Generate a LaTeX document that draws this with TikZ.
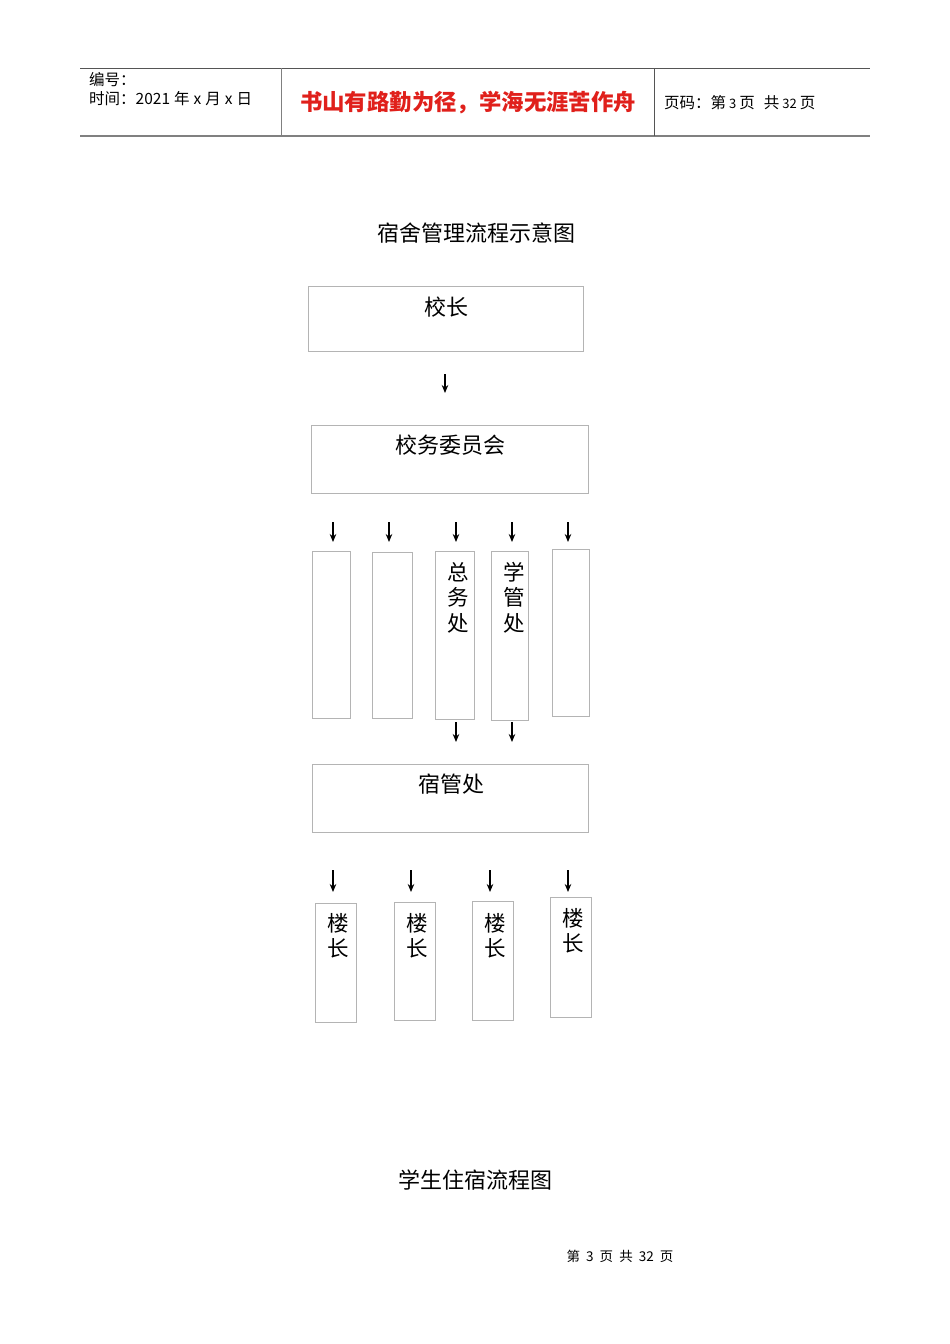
\documentclass[tikz,border=0pt]{standalone}
\usepackage{fontspec}
\setmainfont{Noto Sans CJK SC}
\usetikzlibrary{arrows.meta}
\definecolor{boxgray}{HTML}{B4B4B4}
\definecolor{linegray}{HTML}{555555}
\definecolor{mottored}{HTML}{E0201B}
\tikzset{
  box/.style={draw=boxgray, line width=0.9pt, inner sep=0pt},
  bigtext/.style={inner sep=0pt, font=\fontsize{22}{26}\selectfont},
  vtext/.style={inner sep=0pt, align=center, font=\fontsize{21.5}{25.5}\selectfont, anchor=north},
  arr/.style={line width=1.2pt, -{Stealth[length=8pt,width=6.5pt]}},
  hdr/.style={inner sep=0pt, anchor=west, font=\fontsize{15.5}{18}\selectfont},
}
\begin{document}
\begin{tikzpicture}[x=1pt,y=-1pt]
\useasboundingbox[fill=white] (0,0) rectangle (950,1344);
% header
\coordinate (hTL) at (80,68);  \coordinate (hTR) at (870,68);
\coordinate (hBL) at (80,136); \coordinate (hBR) at (870,136);
\coordinate (v1t) at (281,68); \coordinate (v1b) at (281,136);
\coordinate (v2t) at (654,68); \coordinate (v2b) at (654,136);
\draw[linegray, line width=1pt] (hTL) -- (hTR);
\draw[gray, line width=2pt] (hBL) -- (hBR);
\draw[gray, line width=1pt] (v1t) -- (v1b);
\draw[linegray, line width=1pt] (v2t) -- (v2b);
\node[hdr] (bh) at (89,80) {编号：};
\node[hdr] (sj) at (89,99) {时间：2021\kern4pt 年\kern4pt x\kern4pt 月\kern4pt x\kern4pt 日};
\node[inner sep=0pt, text=mottored, font=\fontsize{22.4}{26}\selectfont\bfseries] (motto) at (468,103) {书山有路勤为径，学海无涯苦作舟};
\node[hdr] (ym) at (664,103) {页码：第\kern3pt{\fontsize{13}{15}\selectfont 3}\kern3pt 页\kern9pt 共\kern3pt{\fontsize{13}{15}\selectfont 32}\kern3pt 页};
% title
\node[bigtext] (title) at (476,233) {宿舍管理流程示意图};
% level 1
\node[box, minimum width=275pt, minimum height=65pt] (xz) at (445.5,318.5) {};
\node[bigtext] (xzt) at (446,307) {校长};
\coordinate (a0s) at (445,374); \coordinate (a0e) at (445,393);
\draw[arr] (a0s) -- (a0e);
% level 2
\node[box, minimum width=277pt, minimum height=68pt] (xw) at (449.5,459) {};
\node[bigtext] (xwt) at (450,445) {校务委员会};
\foreach \x [count=\i] in {333,389,456,512,568}{
  \coordinate (b\i s) at (\x,522); \coordinate (b\i e) at (\x,542);
  \draw[arr] (b\i s) -- (b\i e);
}
% level 3 tall boxes
\node[box, minimum width=38pt, minimum height=167pt] (d1) at (331,634.5) {};
\node[box, minimum width=40pt, minimum height=166pt] (d2) at (392,635) {};
\node[box, minimum width=39pt, minimum height=168pt] (d3) at (454.5,635) {};
\node[box, minimum width=37pt, minimum height=169pt] (d4) at (509.5,635.5) {};
\node[box, minimum width=37pt, minimum height=167pt] (d5) at (570.5,632.5) {};
\node[vtext] (d3t) at (458,562) {总\\务\\处};
\node[vtext] (d4t) at (514,562) {学\\管\\处};
\coordinate (c1s) at (456,722); \coordinate (c1e) at (456,742);
\coordinate (c2s) at (512,722); \coordinate (c2e) at (512,742);
\draw[arr] (c1s) -- (c1e);
\draw[arr] (c2s) -- (c2e);
% level 4
\node[box, minimum width=276pt, minimum height=68pt] (sg) at (450,798) {};
\node[bigtext] (sgt) at (451,784) {宿管处};
\foreach \x [count=\i] in {333,411,490,568}{
  \coordinate (e\i s) at (\x,870); \coordinate (e\i e) at (\x,892);
  \draw[arr] (e\i s) -- (e\i e);
}
% level 5
\node[box, minimum width=41pt, minimum height=119pt] (l1) at (335.5,962.5) {};
\node[box, minimum width=41pt, minimum height=118pt] (l2) at (414.5,961) {};
\node[box, minimum width=41pt, minimum height=119pt] (l3) at (492.5,960.5) {};
\node[box, minimum width=41pt, minimum height=120pt] (l4) at (570.5,957) {};
\node[vtext] (l1t) at (338,913) {楼\\长};
\node[vtext] (l2t) at (417,913) {楼\\长};
\node[vtext] (l3t) at (495,913) {楼\\长};
\node[vtext] (l4t) at (573,908) {楼\\长};
% second title
\node[bigtext] (title2) at (475,1180) {学生住宿流程图};
% footer
\node[inner sep=0pt, font=\fontsize{13.5}{16}\selectfont] (foot) at (620,1256) {第\ \ 3\ \ 页\ \ 共\ \ 32\ \ 页};
\end{tikzpicture}
\end{document}
